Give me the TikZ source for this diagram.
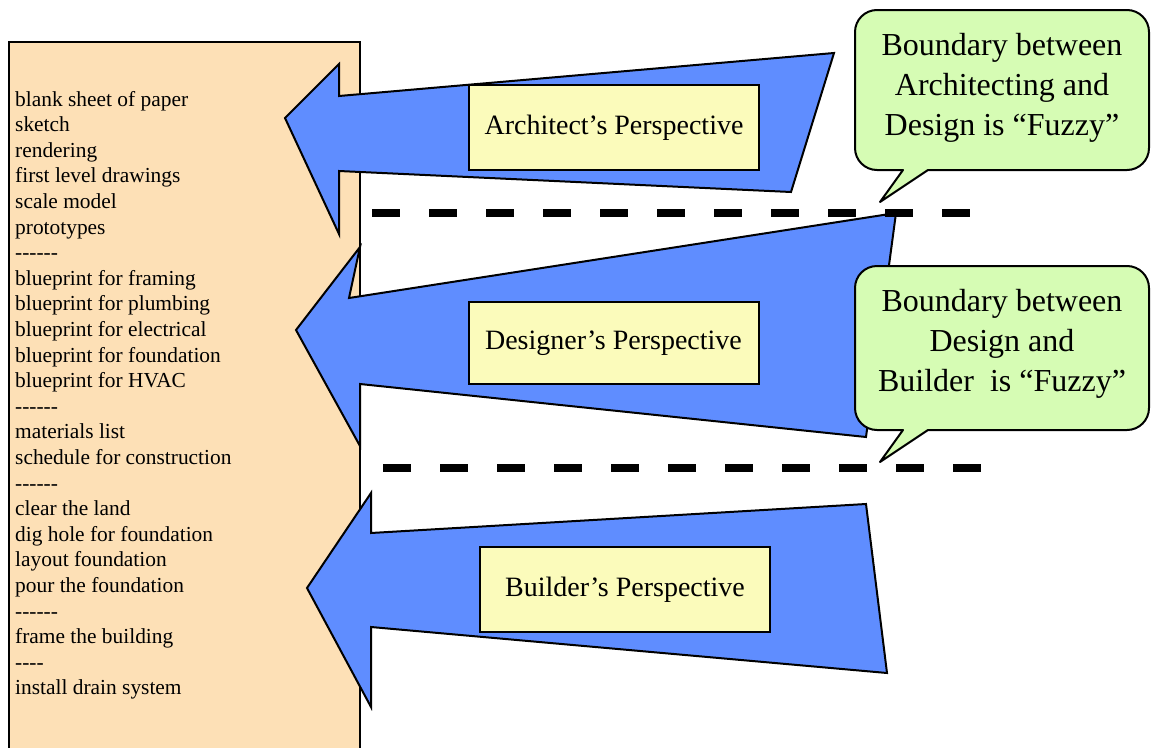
\documentclass[tikz,border=0pt]{standalone}
\usepackage{fontspec}
\setmainfont{Liberation Serif}
\definecolor{peach}{RGB}{253,224,182}
\definecolor{arrowblue}{RGB}{95,141,255}
\definecolor{boxyellow}{RGB}{251,251,187}
\definecolor{calloutgreen}{RGB}{214,252,180}
\tikzset{
  bigarrow/.style={draw=black, line width=2pt, fill=arrowblue, line join=miter},
  persp/.style={draw=black, line width=2pt, fill=boxyellow, minimum width=290pt, minimum height=85pt, inner sep=0pt, font=\fontsize{28}{34}\selectfont},
  callout/.style={draw=black, line width=2pt, fill=calloutgreen, line join=round},
  callouttext/.style={align=center, font=\fontsize{32}{40}\selectfont, inner sep=0pt},
  boundary/.style={line width=8.5pt, dash pattern=on 28pt off 29pt},
  listitem/.style={anchor=base west, inner sep=0pt, font=\fontsize{21.4}{25.6}\selectfont}
}
\begin{document}
\begin{tikzpicture}[x=1pt,y=-1pt]
\useasboundingbox (0,0) rectangle (1151,747);
\clip (0,0) rectangle (1151,747);
% left list box
\fill[peach] (9,42) rectangle (360,760);
\draw[line width=2pt] (9,760) -- (9,42) -- (360,42) -- (360,760);
\foreach \t [count=\i from 0] in {blank sheet of paper,sketch,rendering,first level drawings,scale model,prototypes,-{}-{}-{}-{}-{}-,blueprint for framing,blueprint for plumbing,blueprint for electrical,blueprint for foundation,blueprint for HVAC,-{}-{}-{}-{}-{}-,materials list,schedule for construction,-{}-{}-{}-{}-{}-,clear the land,dig hole for foundation,layout foundation,pour the foundation,-{}-{}-{}-{}-{}-,frame the building,-{}-{}-{}-,install drain system}
  \node[listitem] (item\i) at (15,{106+25.6*\i}) {\t};
% arrows
\draw[bigarrow] (285,118) -- (339,64) -- (339,96) -- (834,53) -- (791,192) -- (339,171) -- (339,234) -- cycle;
\node[persp] (arch) at (614,127.5) {Architect’s Perspective};
\draw[bigarrow] (296,330) -- (360,247) -- (349,298) -- (896,213) -- (866,437) -- (360,384) -- (360,446) -- cycle;
\node[persp, minimum height=82pt] (des) at (613.5,343) {Designer’s Perspective};
\draw[bigarrow] (307,588) -- (371,493) -- (371,533) -- (866,504) -- (887,673) -- (371,627) -- (371,707) -- cycle;
\node[persp] (build) at (625,589.5) {Builder’s Perspective};
% boundaries
\coordinate (b1s) at (372,213);
\coordinate (b1e) at (972,213);
\coordinate (b2s) at (383,468);
\coordinate (b2e) at (983,468);
\draw[boundary] (b1s) -- (b1e);
\draw[boundary] (b2s) -- (b2e);
% callouts
\draw[callout] (903,170) [rounded corners=22] -- (855,170) -- (855,10) -- (1149,10) -- (1149,170) [sharp corners] -- (928,170) -- (880,202) -- cycle;
\node[callouttext] (c1) at (1002,88) {Boundary between\\Architecting and\\Design is “Fuzzy”};
\draw[callout] (903,430) [rounded corners=22] -- (855,430) -- (855,266) -- (1149,266) -- (1149,430) [sharp corners] -- (928,430) -- (880,462) -- cycle;
\node[callouttext] (c2) at (1002,344) {Boundary between\\Design and\\Builder\ \ is “Fuzzy”};
\end{tikzpicture}
\end{document}
